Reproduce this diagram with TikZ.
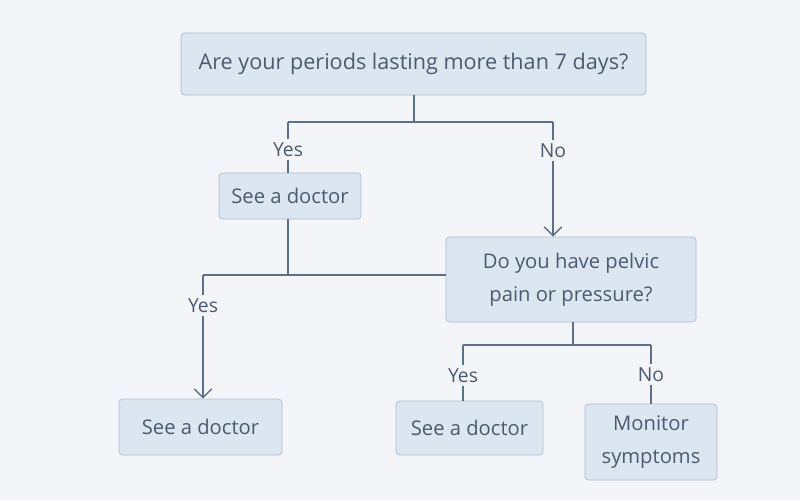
\documentclass[tikz,border=0pt]{standalone}
\usepackage{fontspec}
\setmainfont{Open Sans}
\usetikzlibrary{positioning, arrows.meta}
\definecolor{bgcol}{HTML}{F3F5F9}
\definecolor{boxfill}{HTML}{DCE6F0}
\definecolor{boxline}{HTML}{A9BCD0}
\definecolor{ink}{HTML}{4A5A70}
\definecolor{wire}{HTML}{5C708A}
\begin{document}
\begin{tikzpicture}[x=0.02cm, y=-0.02cm,
  box/.style={draw=boxline, fill=boxfill, rounded corners=2pt, text=ink, align=center, font=\fontsize{11.5}{15}\selectfont},
  lbl/.style={fill=bgcol, text=ink, inner sep=2pt, font=\fontsize{11}{13}\selectfont},
  link/.style={wire, line width=0.8pt},
  arr/.style={link, -{Straight Barb[length=5pt]}}]
% background
\fill[bgcol] (0,0) rectangle (800,500);
\useasboundingbox (0,0) rectangle (800,500);

% boxes
\node[box, font=\fontsize{12.3}{15}\selectfont, minimum width=465*0.02cm, minimum height=62*0.02cm] (q1) at (413.5,64) {Are your periods lasting more than 7 days?};
\node[box, minimum width=142*0.02cm, minimum height=46*0.02cm] (d1) at (290,196) {See a doctor};
\node[box, minimum width=250*0.02cm, minimum height=85*0.02cm] (q2) at (571,279.5) {Do you have pelvic\\[4pt] pain or pressure?};
\node[box, minimum width=163*0.02cm, minimum height=56*0.02cm] (d2) at (200.5,427) {See a doctor};
\node[box, minimum width=147*0.02cm, minimum height=54*0.02cm] (d3) at (469.5,428) {See a doctor};
\node[box, minimum width=132*0.02cm, minimum height=76*0.02cm] (m1) at (651,442) {Monitor\\[4pt] symptoms};

% branch points
\coordinate (j1) at (414,122);
\coordinate (j1l) at (288,122);
\coordinate (j1r) at (553,122);
\coordinate (j2) at (288,275);
\coordinate (j2l) at (203,275);
\coordinate (j3) at (573,345);
\coordinate (j3l) at (463,345);
\coordinate (j3r) at (651,345);

% connectors
\draw[link] (q1.south -| j1) -- (j1) (j1l) -- (j1r);
\draw[link] (j1l) -- (d1.north -| j1l) node[lbl, pos=0.55] {Yes};
\draw[arr] (j1r) -- (q2.north -| j1r) node[lbl, pos=0.25] {No};
\draw[link] (d1.south -| j2) -- (j2) -- (j2l);
\draw[link] (j2) -- (q2.west |- j2);
\draw[arr] (j2l) -- (d2.north -| j2l) node[lbl, pos=0.25] {Yes};
\draw[link] (q2.south -| j3) -- (j3) (j3l) -- (j3r);
\draw[link] (j3l) -- (d3.north -| j3l) node[lbl, pos=0.55] {Yes};
\draw[link] (j3r) -- (m1.north -| j3r) node[lbl, pos=0.5] {No};
\end{tikzpicture}
\end{document}
